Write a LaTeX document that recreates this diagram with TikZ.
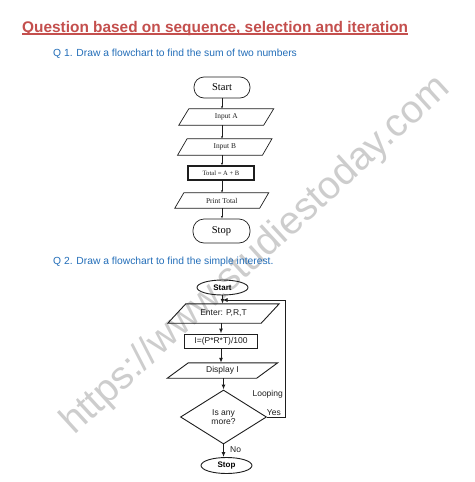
\documentclass[tikz,border=0pt]{standalone}
\usepackage{fontspec}
\setmainfont{Liberation Serif}
\newfontfamily\arialf{Liberation Sans}
\usetikzlibrary{shapes.geometric,arrows.meta,calc}
\definecolor{titlered}{RGB}{196,79,77}
\definecolor{qblue}{RGB}{35,110,185}
\definecolor{wmgray}{RGB}{205,205,205}
\definecolor{inkc}{RGB}{30,30,30}
\newcommand\mypara[8]{%
  \node[#2, minimum width=#5, minimum height=#6, inner sep=0pt] (#1) at (#4) {#8};
  \draw[#3] ([xshift=#7/2]#1.north west) -- ([xshift=#7/2]#1.north east) -- ([xshift=-#7/2]#1.south east) -- ([xshift=-#7/2]#1.south west) -- cycle;}
\begin{document}
\begin{tikzpicture}[x=1pt,y=-1pt,
  c1text/.style={font=\fontsize{7.4}{8}\selectfont, text=inkc},
  c1line/.style={draw=inkc, line width=0.7pt},
  c1term/.style={draw=inkc, line width=0.7pt, rounded corners=10pt, inner sep=0pt, font=\fontsize{10.5}{12}\selectfont},
  a1/.style={draw=inkc, line width=0.5pt, -{Latex[length=2.5pt,width=2pt]}},
  c2text/.style={font=\arialf\fontsize{8.5}{9.5}\selectfont, text=inkc},
  c2line/.style={draw=inkc, line width=0.9pt},
  c2term/.style={ellipse, draw=inkc, line width=0.9pt, inner sep=0pt, font=\arialf\bfseries\fontsize{8}{9}\selectfont},
  a2/.style={draw=inkc, line width=1pt, -{Latex[length=5pt,width=4pt]}},
  lab/.style={font=\arialf\fontsize{8.5}{9.5}\selectfont, text=inkc, inner sep=0pt}
]
\useasboundingbox[fill=white] (0,0) rectangle (474,482);

% watermark
\node[text=wmgray, rotate=42.5, font=\arialf\fontsize{39}{40}\selectfont, inner sep=0pt] (wmark) at (256,256) {https://www.studiestoday.com};

% heading
\node[anchor=base west, inner sep=0pt, text=titlered, font=\arialf\bfseries\fontsize{15.4}{18}\selectfont] (title) at (22,32) {Question based on sequence, selection and iteration};
\draw[titlered, line width=1.6pt] ([yshift=-2pt]title.base west) -- ([yshift=-2pt]title.base east);

\node[anchor=base west, inner sep=0pt, text=qblue, font=\arialf\fontsize{10.3}{12}\selectfont] (q1) at (53,56) {Q 1. Draw a flowchart to find the sum of two numbers};
\node[anchor=base west, inner sep=0pt, text=qblue, font=\arialf\fontsize{10.3}{12}\selectfont] (q2) at (53,264) {Q 2. Draw a flowchart to find the simple interest.};

% ---------- flowchart 1 ----------
\node[c1term, minimum width=56pt, minimum height=21pt] (s1) at (222,87.5) {Start};
\mypara{inA}{c1text}{c1line}{226.25,117}{84.5}{16}{10}{Input A}
\mypara{inB}{c1text}{c1line}{224.75,147}{84.5}{16}{9.5}{Input B}
\node[c1text, draw=inkc, line width=1.1pt, minimum width=66pt, minimum height=14pt, inner sep=0pt, font=\fontsize{6.6}{8}\selectfont] (tot) at (221,173) {Total = A + B};
\mypara{pr}{c1text}{c1line}{221.75,200.5}{84.5}{15}{9}{Print Total}
\node[c1term, minimum width=57pt, minimum height=24pt, rounded corners=11pt] (e1) at (221.5,231) {Stop};

\draw[a1] (s1) -- (s1 |- inA.north);
\draw[a1] (s1 |- inA.south) -- (s1 |- inB.north);
\draw[a1] (s1 |- inB.south) -- (s1 |- tot.north);
\draw[a1] (s1 |- tot.south) -- (s1 |- pr.north);
\draw[a1] (s1 |- pr.south) -- (s1 |- e1.north);

% ---------- flowchart 2 ----------
\node[c2term, minimum width=51pt, minimum height=15pt] (s2) at (222.5,287.5) {Start};
\mypara{enter}{c2text}{c2line}{223.5,313.5}{93}{19}{18}{Enter: P,R,T}
\node[c2text, draw=inkc, line width=1pt, minimum width=73pt, minimum height=14pt, inner sep=0pt] (calc) at (221,341) {I=(P*R*T)/100};
\mypara{disp}{c2text}{c2line}{222.5,370.5}{89}{15}{21}{Display I}
\node[c2text, diamond, draw=inkc, line width=0.9pt, minimum width=86pt, minimum height=54pt, inner sep=0pt, align=center, font=\arialf\fontsize{8.5}{9}\selectfont] (dec) at (223.5,417) {Is any\\more?};
\node[c2term, minimum width=51pt, minimum height=16pt] (e2) at (226.5,465.5) {Stop};

\coordinate (lp) at (s2 |- 0,300);
\draw[a2] (s2) -- (s2 |- enter.north);
\draw[a2] (calc |- enter.south) -- (calc);
\draw[a2] (calc) -- (calc |- disp.north);
\draw[a2] (dec |- disp.south) -- (dec);
\draw[a2] (dec.south) -- (dec.south |- e2.north);
\draw[a2] (dec.east) -- ++(18.5,0) coordinate (lc) |- (lp);

\node[lab, anchor=east] (looping) at (283,394) {Looping};
\node[lab, anchor=east] (yes) at (281,412.5) {Yes};
\node[lab, anchor=west] (no) at (230,450) {No};
\end{tikzpicture}
\end{document}
